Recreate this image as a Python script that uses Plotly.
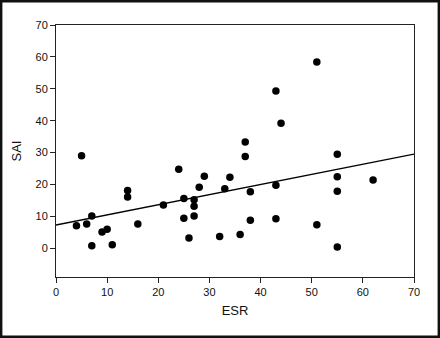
import plotly.graph_objects as go

esr = [4, 5, 6, 7, 7, 9, 10, 11, 14, 14, 16, 21, 24, 25, 25, 26, 27, 27, 27, 28,
       29, 32, 33, 34, 36, 37, 37, 38, 38, 43, 43, 43, 44, 51, 51, 55, 55, 55, 55, 62]
sai = [7.1, 29.0, 7.6, 10.1, 0.8, 5.1, 6.0, 1.1, 18.1, 16.1, 7.6, 13.6, 24.8, 15.6, 9.4,
       3.2, 15.2, 13.2, 10.1, 19.1, 22.6, 3.7, 18.7, 22.3, 4.3, 33.3, 28.8, 17.7, 8.8,
       49.3, 19.8, 9.3, 39.2, 58.4, 7.4, 29.5, 22.4, 17.9, 0.4, 21.4]
fit_x = [0, 70]
fit_y = [7.3, 29.5]
x_ticks = [0, 10, 20, 30, 40, 50, 60, 70]
y_ticks = [0, 10, 20, 30, 40, 50, 60, 70]

W, H = 440, 338
L, R, T, B = 56, 26, 25, 61
pw, ph = W - L - R, H - T - B

fig = go.Figure()
fig.add_trace(go.Scatter(x=fit_x, y=fit_y, mode="lines",
                         line=dict(color="black", width=1.3), hoverinfo="skip"))
fig.add_trace(go.Scatter(x=esr, y=sai, mode="markers",
                         marker=dict(color="black", size=7.5)))

font = dict(family="Liberation Sans, Arial, sans-serif", color="#111")
axis_common = dict(showgrid=False, zeroline=False, showline=True, linecolor="#222",
                   linewidth=1, mirror=True, ticks="outside", ticklen=5,
                   tickcolor="#222", tickfont=dict(size=11, **font))
fig.update_xaxes(range=[0, 70], tickvals=x_ticks, **axis_common,
                 title=dict(text="ESR", font=dict(size=13, **font), standoff=8))
fig.update_yaxes(range=[-9, 70], tickvals=y_ticks, **axis_common,
                 title=dict(text="SAI", font=dict(size=13, **font), standoff=10))

# outer frame around the whole picture
fig.add_shape(type="rect", xref="paper", yref="paper",
              x0=(-L + 1.2) / pw, x1=1 + (R - 1.2) / pw,
              y0=(-B + 1.2) / ph, y1=1 + (T - 1.2) / ph,
              line=dict(color="#111", width=2.4), layer="above")

fig.update_layout(width=W, height=H, margin=dict(l=L, r=R, t=T, b=B),
                  paper_bgcolor="white", plot_bgcolor="white", showlegend=False)
fig.write_html("out.html")
